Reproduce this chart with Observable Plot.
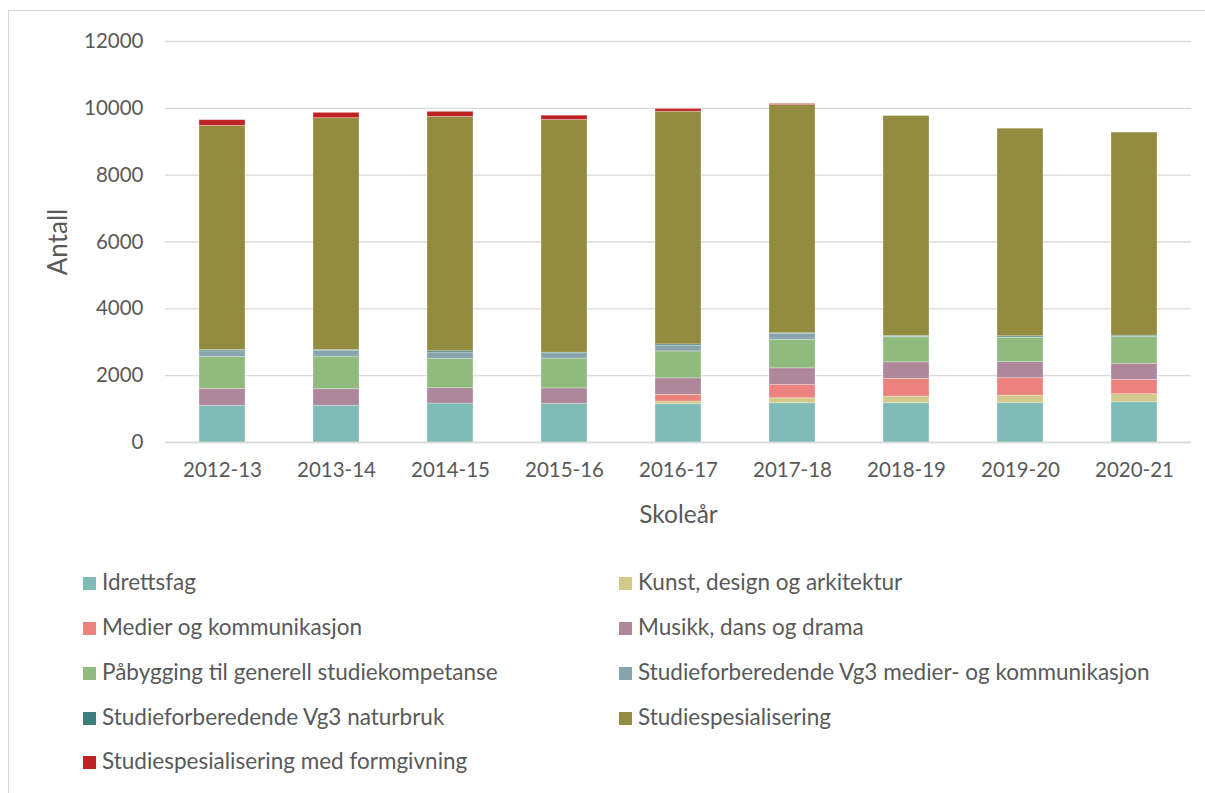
<!DOCTYPE html>
<html>
<head>
<meta charset="utf-8">
<script src="https://cdn.jsdelivr.net/npm/d3@7"></script>
<script src="https://cdn.jsdelivr.net/npm/@observablehq/plot@0.6"></script>
<style>
  html, body { margin: 0; padding: 0; background: #fff; }
  body { width: 1205px; height: 793px; position: relative; overflow: hidden; font-family: Lato, "Open Sans", sans-serif; }
  #frame { position: absolute; left: 8px; top: 10px; width: 1210px; height: 800px; border: 1px solid #d9d9d9; box-sizing: border-box; }
  #chart { position: absolute; left: 0; top: 0; }
  .leg { position: absolute; font-size: 22.5px; color: #595959; white-space: nowrap; line-height: 1; }
  .leg span.sw { display: inline-block; width: 13px; height: 13px; margin-right: 6px; vertical-align: 0px; }
</style>
</head>
<body>
<div id="frame"></div>
<div id="chart"></div>
<div id="legend"></div>
<script>
const years = ["2012-13","2013-14","2014-15","2015-16","2016-17","2017-18","2018-19","2019-20","2020-21"];
const seriesNames = [
  "Idrettsfag",
  "Kunst, design og arkitektur",
  "Medier og kommunikasjon",
  "Musikk, dans og drama",
  "Påbygging til generell studiekompetanse",
  "Studieforberedende Vg3 medier- og kommunikasjon",
  "Studieforberedende Vg3 naturbruk",
  "Studiespesialisering",
  "Studiespesialisering med formgivning"
];
const colors = ["#7fbcb8","#d3c98b","#ec827e","#ae879b","#90bb7e","#87a3ad","#3d7d7a","#938b3f","#bf2323"];

const idrettsfag      = [1100, 1100, 1165, 1155, 1145, 1175, 1175, 1185, 1205];
const kunst           = [0, 0, 0, 0, 80, 150, 200, 220, 240];
const medier          = [0, 0, 0, 0, 200, 400, 530, 520, 430];
const musikk          = [505, 495, 460, 465, 495, 495, 495, 480, 480];
const paabygging      = [955, 975, 880, 890, 805, 850, 750, 730, 795];
const vg3Medier       = [170, 170, 185, 160, 170, 180, 20, 10, 10];
const vg3Naturbruk    = [40, 30, 40, 20, 40, 20, 20, 35, 35];
const studiespes      = [6705, 6935, 7015, 6960, 6965, 6830, 6580, 6210, 6080];
const formgivning     = [170, 160, 150, 130, 80, 30, 0, 0, 0];

const seriesValues = [idrettsfag, kunst, medier, musikk, paabygging, vg3Medier, vg3Naturbruk, studiespes, formgivning];
const yTicks = [0, 2000, 4000, 6000, 8000, 10000, 12000];

const data = [];
years.forEach((yr, i) => {
  seriesNames.forEach((s, j) => {
    data.push({year: yr, series: s, value: seriesValues[j][i]});
  });
});

const chart = Plot.plot({
  width: 1205,
  height: 532,
  marginLeft: 165,
  marginRight: 14,
  marginTop: 41,
  marginBottom: 90,
  style: {fontFamily: "Lato, 'Open Sans', sans-serif", fontSize: "20.5px", color: "#595959", background: "transparent"},
  x: {domain: years, paddingInner: 0.6, paddingOuter: 0.3, label: null},
  y: {domain: [0, 12000], label: null},
  color: {domain: seriesNames, range: colors},
  marks: [
    Plot.gridY(yTicks, {stroke: "#d9d9d9", strokeOpacity: 1, strokeWidth: 1.3}),
    Plot.barY(data, Plot.stackY({order: null}, {x: "year", y: "value", fill: "series", stroke: "#ffffff", strokeOpacity: 0.35, strokeWidth: 0.8})),
    Plot.axisX({tickSize: 0, tickPadding: 20, label: "Skoleår", labelAnchor: "center", labelArrow: "none", labelOffset: 80, fontSize: 20.5}),
    Plot.axisY(yTicks, {tickSize: 0, tickPadding: 22, tickFormat: d => String(d), label: "Antall", labelAnchor: "center", labelArrow: "none", labelOffset: 117, fontSize: 20.5}),
    Plot.ruleY([0], {stroke: "#d9d9d9", strokeWidth: 1.3})
  ]
});
document.getElementById("chart").appendChild(chart);

chart.querySelectorAll("[aria-label='x-axis label'] text").forEach(t => t.setAttribute("font-size", "24.5"));
chart.querySelectorAll("[aria-label='y-axis label'] text").forEach(t => t.setAttribute("font-size", "26"));

const legend = document.getElementById("legend");
const colX = [83, 619];
const rowY = [583, 628, 673, 718, 762];
seriesNames.forEach((s, j) => {
  const d = document.createElement("div");
  d.className = "leg";
  d.style.left = colX[j % 2] + "px";
  d.style.top = (rowY[Math.floor(j / 2)] - 12) + "px";
  d.innerHTML = `<span class="sw" style="background:${colors[j]}"></span>${s}`;
  legend.appendChild(d);
});
</script>
</body>
</html>
